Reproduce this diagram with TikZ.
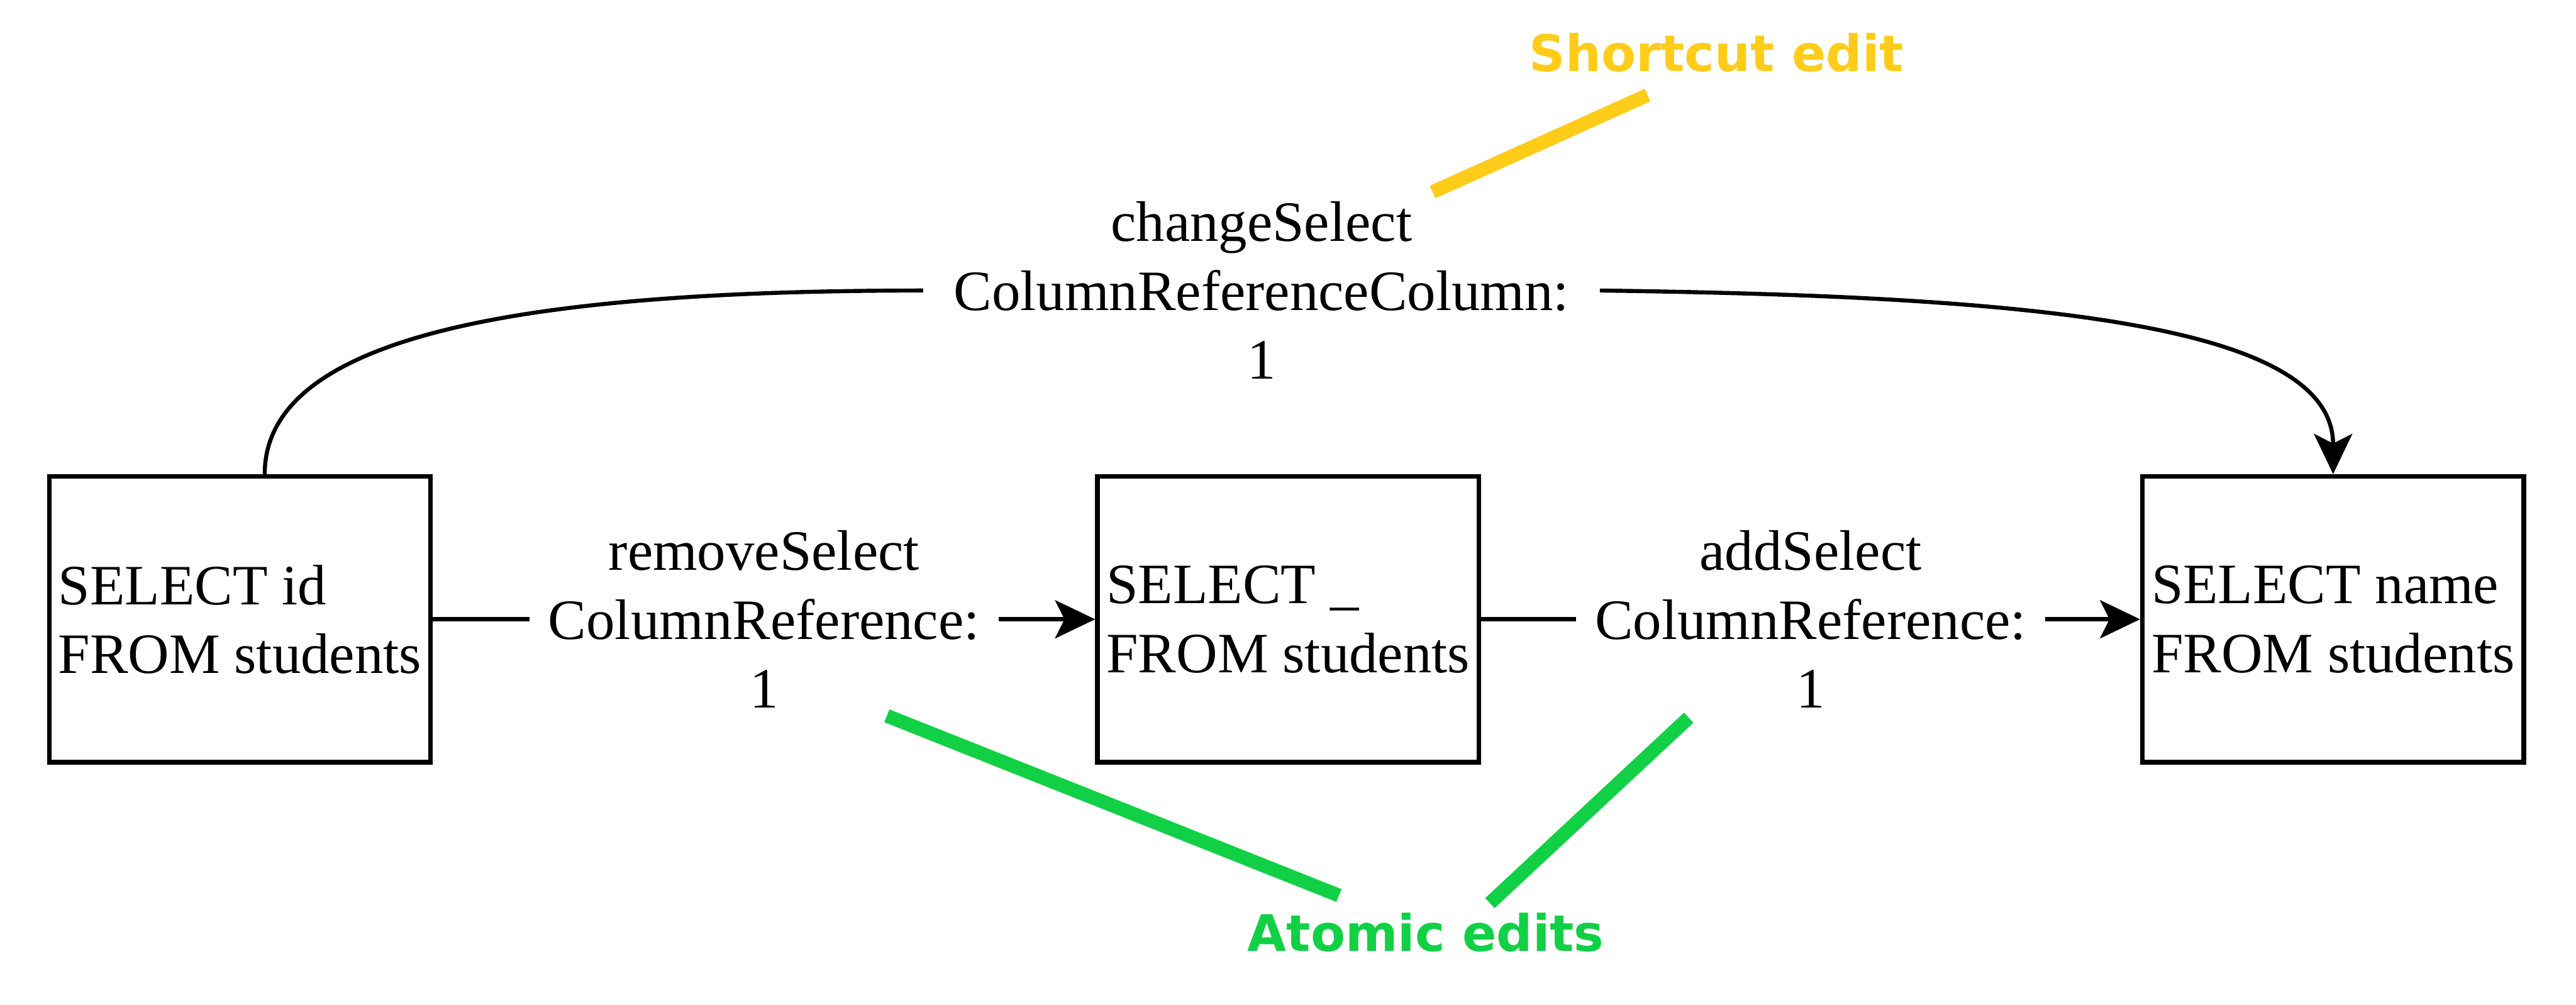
\documentclass[tikz,border=0pt]{standalone}
\usepackage{fontspec}
\setmainfont{Liberation Serif}
\newfontfamily\notefont{DejaVu Sans}
\usetikzlibrary{arrows.meta, positioning}
\definecolor{ShortcutYellow}{RGB}{255,204,26}
\definecolor{AtomicGreen}{RGB}{17,208,69}

\begin{document}
\begin{tikzpicture}[>={Stealth[length=0.42cm, width=0.4cm, inset=0.1cm]}, line width=1.2pt,
    query/.style={draw, line width=1.4pt, minimum width=3.99cm, minimum height=2.99cm,
        inner xsep=0.04cm, align=left, font=\fontsize{17}{20.5}\selectfont},
    editlbl/.style={fill=white, align=center, inner xsep=0.2cm, font=\fontsize{17}{20.5}\selectfont},
    note/.style={font=\notefont\bfseries\fontsize{15}{18}\selectfont},
    pointer/.style={line width=4.1pt}]
        \useasboundingbox (0,0) rectangle (26.955,-10.51);

        % Queries
        \node[query] (q1) at (2.51,-6.48) {SELECT id\\FROM students};
        \node[query, right=6.93cm of q1] (q2) {SELECT \_\\FROM students};
        \node[query, right=6.895cm of q2] (q3) {SELECT name\\FROM students};

        % Atomic edits
        \draw[->] (q1) -- node[editlbl] {removeSelect\\ColumnReference:\\1} (q2);
        \draw[->] (q2) -- node[editlbl] {addSelect\\ColumnReference:\\1} (q3);

        % Shortcut edit
        \node[editlbl, inner xsep=0.3cm] (shortcut) at (13.2,-3.04) {changeSelect\\ColumnReferenceColumn:\\1};
        \draw ([xshift=0.26cm]q1.north) .. controls +(0,1.46) and +(-4.15,0) .. (shortcut.west);
        \draw[->] (shortcut.east) .. controls +(4.62,-0.06) and +(0,1.56) .. (q3.north);

        % Notes
        \node[note, text=ShortcutYellow] (sc) at (17.96,-0.55) {Shortcut edit};
        \node[note, text=AtomicGreen] (ae) at (14.92,-9.76) {Atomic edits};
        \coordinate (sc-a) at (14.99,-2.01);
        \coordinate (sc-b) at (17.24,-0.995);
        \coordinate (ae-a) at (9.28,-7.49);
        \coordinate (ae-b) at (14.01,-9.37);
        \coordinate (ae-c) at (17.67,-7.51);
        \coordinate (ae-d) at (15.59,-9.45);
        \draw[pointer, ShortcutYellow] (sc-a) -- (sc-b);
        \draw[pointer, AtomicGreen] (ae-a) -- (ae-b);
        \draw[pointer, AtomicGreen] (ae-c) -- (ae-d);
    \end{tikzpicture}
\end{document}
